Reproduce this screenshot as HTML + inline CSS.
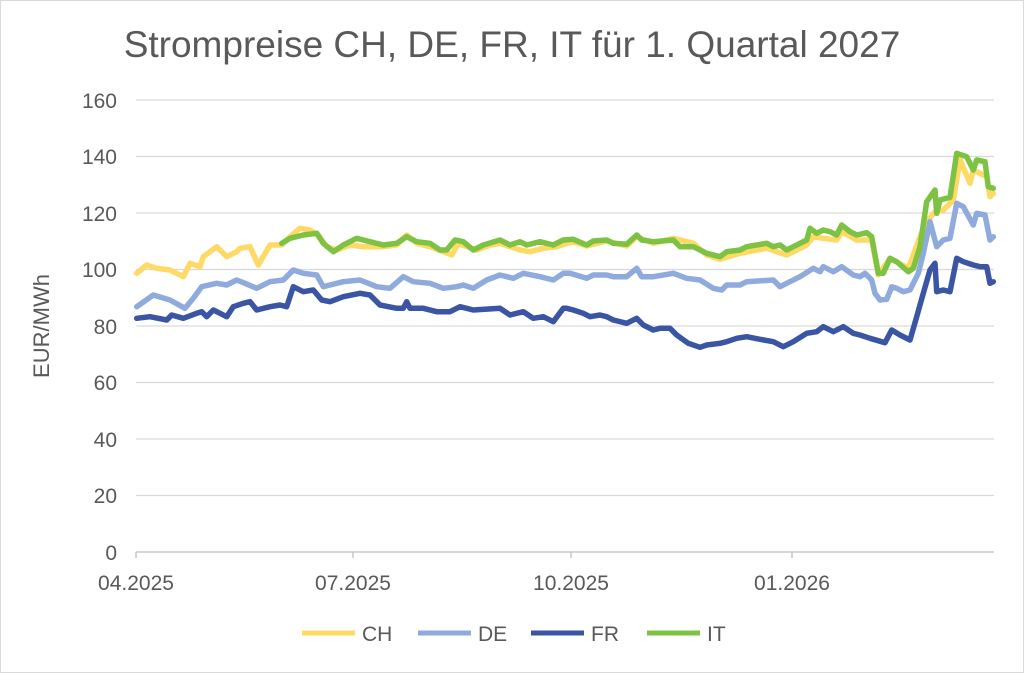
<!DOCTYPE html>
<html><head><meta charset="utf-8"><style>
body{margin:0;background:#fff;}
svg{display:block;font-family:"Liberation Sans",sans-serif;}
</style></head><body>
<svg id="s" width="1024" height="673" viewBox="0 0 1024 673">
<rect x="0.5" y="0.5" width="1023" height="672" fill="#fff" stroke="#d9d9d9"/>
<text x="512" y="57" text-anchor="middle" font-size="37" fill="#595959">Strompreise CH, DE, FR, IT für 1. Quartal 2027</text>
<g stroke="#d9d9d9" stroke-width="1.3">
<line x1="136" x2="994" y1="100" y2="100"/><line x1="136" x2="994" y1="156.5" y2="156.5"/>
<line x1="136" x2="994" y1="213" y2="213"/><line x1="136" x2="994" y1="269.5" y2="269.5"/>
<line x1="136" x2="994" y1="326" y2="326"/><line x1="136" x2="994" y1="382.5" y2="382.5"/>
<line x1="136" x2="994" y1="439" y2="439"/><line x1="136" x2="994" y1="495.5" y2="495.5"/>
</g>
<line x1="136" x2="994" y1="552" y2="552" stroke="#bfbfbf" stroke-width="1.3"/>
<g stroke="#bfbfbf" stroke-width="1.3"><line x1="136" x2="136" y1="552" y2="558"/><line x1="353" x2="353" y1="552" y2="558"/><line x1="571" x2="571" y1="552" y2="558"/><line x1="792" x2="792" y1="552" y2="558"/></g>
<g font-size="21" fill="#595959" text-anchor="end">
<text x="117" y="108">160</text><text x="117" y="164">140</text><text x="117" y="221">120</text><text x="117" y="277">100</text>
<text x="117" y="334">80</text><text x="117" y="390">60</text><text x="117" y="447">40</text><text x="117" y="503">20</text><text x="117" y="560">0</text>
</g>
<g font-size="21" fill="#595959" text-anchor="middle">
<text x="136" y="590">04.2025</text><text x="353" y="590">07.2025</text><text x="571" y="590">10.2025</text><text x="792" y="590">01.2026</text>
</g>
<text transform="translate(49,326) rotate(-90)" text-anchor="middle" font-size="22" fill="#595959">EUR/MWh</text>
<g id="lines" fill="none" stroke-width="5.5" stroke-linejoin="round" stroke-linecap="round"></g>
<g font-size="21" fill="#595959">
<line x1="302" x2="355" y1="633" y2="633" stroke="#ffd966" stroke-width="5"/><text x="362" y="641">CH</text>
<line x1="418" x2="471" y1="633" y2="633" stroke="#8faadc" stroke-width="5"/><text x="478" y="641">DE</text>
<line x1="531" x2="584" y1="633" y2="633" stroke="#3a55a3" stroke-width="5"/><text x="591" y="641">FR</text>
<line x1="647" x2="700" y1="633" y2="633" stroke="#7dc243" stroke-width="5"/><text x="707" y="641">IT</text>
</g>
</svg>
<script>
function z1(a){return a.map(p=>[130+p[0]/3,220+p[1]/3]);}
function z2(a){return a.map(p=>[560+p[0]/3,140+p[1]/3]);}
var IT2=[[0,300],[40,298],[80,315],[100,303],[140,300],[160,310],[200,313],[230,285],[245,300],[280,305],[340,300],[360,320],[400,320],[440,340],[480,350],[500,335],[540,330],[560,320],[620,310],[640,320],[660,315],[680,330],[700,320],[740,300],[750,265],[770,280],[790,270],[810,275],[830,285],[845,255],[870,275],[890,285],[920,278],[935,290],[955,400],[970,400],[990,355],[1010,365],[1045,395],[1060,385],[1080,320],[1100,185],[1125,150],[1130,220],[1140,180],[1170,172],[1190,40],[1220,50],[1240,90],[1250,60],[1275,65],[1285,140],[1300,145]];
var IT1=[[455,70],[480,55],[520,45],[560,40],[580,70],[610,95],[640,75],[680,55],[720,65],[760,75],[800,70],[830,50],[860,65],[900,70],[930,90],[950,90],[975,60],[1000,65],[1030,90],[1060,75],[1110,60],[1140,75],[1170,65],[1190,75],[1230,65],[1270,75],[1300,60]];
var CH1=[[20,160],[50,135],[80,145],[120,150],[160,170],[180,130],[210,140],[220,110],[260,80],[290,110],[320,95],[330,85],[360,80],[385,135],[420,75],[455,75],[480,50],[510,25],[540,30],[565,45],[590,80],[620,90],[660,75],[700,80],[760,80],[800,75],[830,45],[860,70],[900,80],[940,95],[965,105],[985,70],[1010,80],[1040,90],[1080,75],[1110,70],[1170,90],[1200,95],[1240,85],[1280,80],[1310,70]];
var CH2=[[0,310],[40,305],[80,318],[140,303],[200,318],[230,290],[280,310],[340,295],[400,310],[440,345],[480,358],[540,340],[620,325],[680,345],[740,315],[760,290],[790,295],[830,300],[845,275],[890,300],[935,300],[955,405],[990,355],[1045,385],[1080,290],[1100,245],[1125,215],[1150,210],[1180,180],[1200,60],[1230,130],[1240,90],[1260,100],[1280,110],[1290,170],[1300,160]];
var DE1=[[20,260],[70,225],[120,240],[165,265],[190,235],[215,200],[260,190],[290,195],[320,180],[345,190],[380,205],[420,185],[460,180],[490,150],[520,160],[560,165],[580,200],[600,195],[640,185],[690,180],[740,200],[780,205],[820,170],[850,185],[900,190],[940,205],[980,200],[1000,195],[1030,205],[1070,180],[1110,165],[1150,175],[1180,160],[1230,170],[1270,180],[1300,160]];
var DE2=[[0,410],[30,400],[80,415],[100,405],[140,405],[160,410],[200,410],[230,385],[245,410],[280,410],[340,400],[380,415],[420,420],[460,445],[485,450],[500,435],[540,435],[560,425],[640,420],[660,440],[680,430],[720,410],[760,385],[780,395],[790,380],[820,395],[845,380],[880,405],[900,410],[915,400],[935,420],[945,460],[960,480],[980,478],[995,440],[1010,445],[1030,455],[1050,450],[1075,400],[1090,340],[1110,245],[1130,320],[1150,300],[1170,295],[1190,190],[1210,200],[1240,255],[1250,220],[1275,225],[1290,300],[1300,290]];
var FR1=[[20,295],[60,290],[110,300],[125,285],[160,295],[200,280],[215,275],[230,290],[250,270],[270,280],[290,290],[310,260],[340,250],[360,245],[380,270],[420,260],[450,255],[470,260],[490,200],[520,215],[550,210],[575,240],[600,245],[640,230],[690,220],[720,225],[750,255],[800,265],[820,265],[830,245],[840,265],[880,265],[920,275],[960,275],[990,260],[1030,270],[1110,265],[1140,285],[1180,275],[1210,295],[1240,290],[1270,305],[1300,265]];
var FR2=[[0,520],[20,505],[40,510],[70,520],[90,530],[120,525],[140,530],[160,540],[200,550],[230,535],[250,555],[280,570],[300,565],[330,565],[350,585],[385,610],[420,622],[440,615],[480,610],[500,605],[530,595],[560,590],[600,598],[640,605],[670,620],[700,605],[740,580],[770,575],[790,560],[820,575],[850,560],[880,580],[900,585],[930,595],[975,608],[995,570],[1020,585],[1050,600],[1070,530],[1090,460],[1110,390],[1125,370],[1130,455],[1150,450],[1170,455],[1190,355],[1210,365],[1240,375],[1260,380],[1280,380],[1290,430],[1300,425]];
function join(a,b){var x=a[a.length-1][0];return a.concat(b.filter(p=>p[0]>x+0.5));}
var series=[["#ffd966",join(z1(CH1),z2(CH2))],["#8faadc",join(z1(DE1),z2(DE2))],["#3a55a3",join(z1(FR1),z2(FR2))],["#7dc243",join(z1(IT1),z2(IT2))]];
var g=document.getElementById("lines");
series.forEach(s=>{var p=document.createElementNS("http://www.w3.org/2000/svg","polyline");p.setAttribute("stroke",s[0]);p.setAttribute("points",s[1].map(q=>q[0].toFixed(1)+","+q[1].toFixed(1)).join(" "));g.appendChild(p);});
</script>
</body></html>
